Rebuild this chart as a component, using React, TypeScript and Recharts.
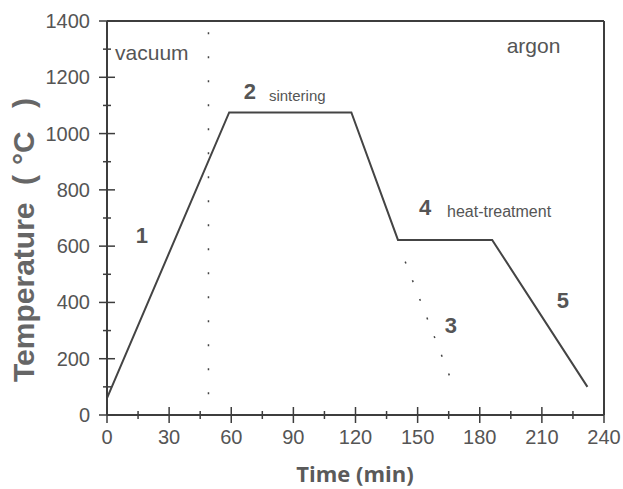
import React from "react";
import {
  Label,
  Line,
  LineChart,
  ReferenceDot,
  ReferenceLine,
  XAxis,
  YAxis,
} from "recharts";

// furnace profile: time (min) / temperature (°C)
const profileTime = [0, 59, 118, 140.5, 186, 232];
const profileTemp = [60, 1075, 1075, 622, 622, 100];

// dotted continuation of the cooling step (stage 3)
const quenchTime = [144, 168];
const quenchTemp = [545, 90];

// vacuum / argon boundary
const boundaryTime = [49, 49];
const boundaryTemp = [1360, 25];

const xTicks = [0, 15, 30, 45, 60, 75, 90, 105, 120, 135, 150, 165, 180, 195, 210, 225, 240];
const yTicks = [0, 100, 200, 300, 400, 500, 600, 700, 800, 900, 1000, 1100, 1200, 1300, 1400];

const stageNumbers = ["1", "2", "3", "4", "5"];
const stageNames = ["sintering", "heat-treatment"];
const atmospheres = ["vacuum", "argon"];

const AXIS = "#3d3d3d";
const INK = "#555";
const FONT = "'Liberation Sans', Arial, sans-serif";

const toRows = (xs: number[], ys: number[]) =>
  xs.map((t, i) => ({ t, temp: ys[i] }));

const YTick = (props: any) => {
  const { x, y, payload } = props;
  const major = payload.value % 200 === 0;
  const h = major ? 8 : 4;
  return (
    <g>
      <line x1={x - h} x2={x + h} y1={y} y2={y} stroke={AXIS} strokeWidth={1.5} />
      {major && (
        <text x={x - 17} y={y + 7} textAnchor="end" fontSize={20} fill={INK} fontFamily={FONT}>
          {payload.value}
        </text>
      )}
    </g>
  );
};

const XTick = (props: any) => {
  const { x, y, payload } = props;
  const major = payload.value % 30 === 0;
  const h = major ? 8 : 4;
  return (
    <g>
      <line x1={x} x2={x} y1={y - h} y2={y + h} stroke={AXIS} strokeWidth={1.5} />
      {major && (
        <text x={x} y={y + 29} textAnchor="middle" fontSize={20} fill={INK} fontFamily={FONT}>
          {payload.value}
        </text>
      )}
    </g>
  );
};

// annotation text drawn at a data point
const note =
  (text: string, size: number, bold: boolean, anchor: string = "middle") =>
  (p: any) =>
    (
      <text
        x={p.cx}
        y={p.cy}
        textAnchor={anchor}
        fontSize={size}
        fontWeight={bold ? "bold" : "normal"}
        fill={INK}
        fontFamily={FONT}
      >
        {text}
      </text>
    );

const App = () => {
  return (
    <div style={{ position: "absolute", left: 0, top: 0, background: "#fff" }}>
      <LineChart
        width={623}
        height={489}
        margin={{ top: 21, right: 19, bottom: 14, left: 7 }}
      >
        <XAxis
          type="number"
          dataKey="t"
          domain={[0, 240]}
          ticks={xTicks}
          interval={0}
          height={60}
          tickSize={0}
          tickMargin={0}
          tickLine={false}
          axisLine={{ stroke: AXIS, strokeWidth: 2 }}
          tick={<XTick />}
        >
          <Label
            content={() => (
              <text
                x={355}
                y={482}
                textAnchor="middle"
                fontSize={22}
                fontWeight="bold"
                fill="#5a5a5a"
                fontFamily="'Open Sans', sans-serif"
              >
                Time (min)
              </text>
            )}
          />
        </XAxis>
        <YAxis
          type="number"
          dataKey="temp"
          domain={[0, 1400]}
          ticks={yTicks}
          interval={0}
          width={100}
          tickSize={0}
          tickMargin={0}
          tickLine={false}
          axisLine={{ stroke: AXIS, strokeWidth: 2 }}
          tick={<YTick />}
        >
          <Label
            content={() => (
              <text
                transform="translate(23 382) rotate(-90)"
                dominantBaseline="central"
                fontSize={30}
                fontWeight="bold"
                fill="#666"
                fontFamily={FONT}
              >
                <tspan x={0}>Temperature</tspan>
                <tspan x={197}>(</tspan>
                <tspan x={217}>°C</tspan>
                <tspan x={274}>)</tspan>
              </text>
            )}
          />
        </YAxis>

        <ReferenceLine y={1400} stroke={AXIS} strokeWidth={2} />
        <ReferenceLine x={240} stroke={AXIS} strokeWidth={2} />

        <Line
          data={toRows(boundaryTime, boundaryTemp)}
          dataKey="temp"
          type="linear"
          stroke="#444"
          strokeWidth={1.5}
          strokeDasharray="2 22"
          dot={false}
          isAnimationActive={false}
        />
        <Line
          data={toRows(quenchTime, quenchTemp)}
          dataKey="temp"
          type="linear"
          stroke="#444"
          strokeWidth={1.5}
          strokeDasharray="2 18"
          dot={false}
          isAnimationActive={false}
        />
        <Line
          data={toRows(profileTime, profileTemp)}
          dataKey="temp"
          type="linear"
          stroke="#444"
          strokeWidth={2}
          dot={false}
          isAnimationActive={false}
        />

        <ReferenceDot x={3.9} y={1261} r={0} shape={note(atmospheres[0], 21, false, "start")} />
        <ReferenceDot x={193} y={1286} r={0} shape={note(atmospheres[1], 21, false, "start")} />
        <ReferenceDot x={16.9} y={611} r={0} shape={note(stageNumbers[0], 22, true)} />
        <ReferenceDot x={69} y={1123} r={0} shape={note(stageNumbers[1], 22, true)} />
        <ReferenceDot x={78.2} y={1116} r={0} shape={note(stageNames[0], 15, false, "start")} />
        <ReferenceDot x={166.1} y={291} r={0} shape={note(stageNumbers[2], 22, true)} />
        <ReferenceDot x={153.6} y={711} r={0} shape={note(stageNumbers[3], 22, true)} />
        <ReferenceDot x={164.2} y={704} r={0} shape={note(stageNames[1], 16, false, "start")} />
        <ReferenceDot x={220.2} y={380} r={0} shape={note(stageNumbers[4], 22, true)} />
      </LineChart>
    </div>
  );
};

export default App;
